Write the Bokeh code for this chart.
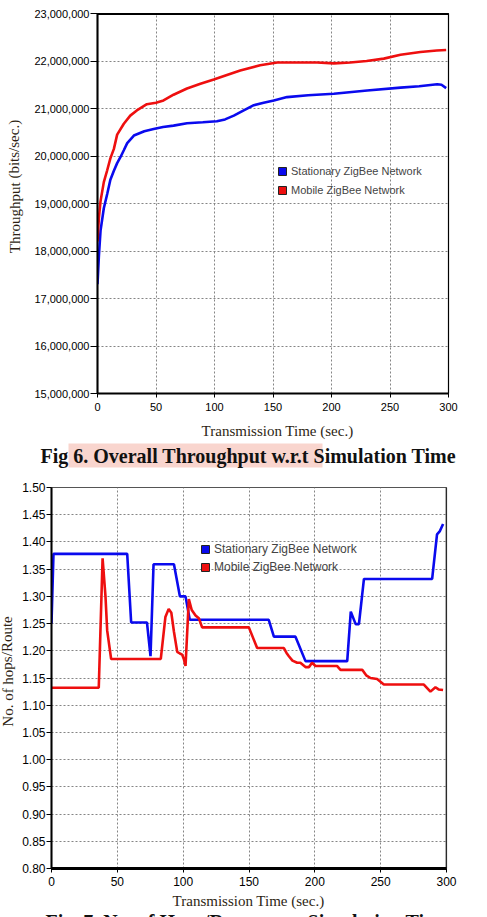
from bokeh.plotting import figure
from bokeh.layouts import column, row
from bokeh.models import (FixedTicker, NumeralTickFormatter, Label, Span, BoxAnnotation,
                          Legend, LegendItem, Range1d)
from bokeh.embed import file_html
from bokeh.resources import INLINE

# ---------------- Data: Fig 6 (throughput, millions of bits/sec) ----------------
t_mobile_tp = [0, 1.2, 2.6, 5.4, 8.3, 11, 14, 16.8, 22.5, 28, 33.6, 42.2, 50, 56.4, 65, 76.5,
               88, 99.4, 110, 122, 139, 153.6, 170, 187.7, 202, 216, 230, 244.7, 259, 276, 290, 298]
mobile_tp_m = [18.2, 18.7, 19.05, 19.45, 19.7, 19.95, 20.15, 20.45, 20.68, 20.85, 20.96, 21.09,
               21.12, 21.17, 21.29, 21.42, 21.52, 21.61, 21.70, 21.80, 21.91, 21.97, 21.97, 21.97,
               21.95, 21.97, 22.00, 22.05, 22.13, 22.19, 22.22, 22.23]
t_stat_tp = [0, 1.2, 2.6, 5.4, 8.3, 11, 14, 16.8, 19.7, 22.5, 25.4, 31.1, 40, 48, 56, 65, 76.5,
             90, 102, 109, 116.5, 125, 133.6, 142, 150.7, 162, 180, 202, 230.5, 259, 275, 290.3,
             294, 298]
stat_tp_m = [17.3, 17.9, 18.43, 18.9, 19.2, 19.5, 19.69, 19.85, 19.98, 20.12, 20.27, 20.43, 20.52,
             20.57, 20.61, 20.64, 20.69, 20.71, 20.73, 20.77, 20.85, 20.96, 21.07, 21.12, 21.17,
             21.24, 21.28, 21.31, 21.38, 21.44, 21.47, 21.51, 21.50, 21.43]
tp_ticks = [15e6, 16e6, 17e6, 18e6, 19e6, 20e6, 21e6, 22e6, 23e6]
time_ticks = [0, 50, 100, 150, 200, 250, 300]

# ---------------- Data: Fig 7 (hops/route) ----------------
t_stat_h = [0, 1.5, 57.5, 60.5, 72.5, 75.2, 77.5, 93, 97.5, 101.8, 105, 165, 168.9, 185.3, 192.9,
            224.6, 227.3, 231, 233.5, 237.3, 289.1, 292.8, 295, 297.4]
stat_h = [1.25, 1.378, 1.378, 1.252, 1.252, 1.19, 1.359, 1.359, 1.30, 1.30, 1.257, 1.257, 1.226,
          1.226, 1.181, 1.181, 1.272, 1.249, 1.249, 1.332, 1.332, 1.414, 1.42, 1.433]
t_mob_h = [0, 35.9, 38.8, 41, 42.3, 45.3, 83, 86.5, 89, 91, 93, 95.5, 97.5, 99.2, 100.5, 101.8,
           104.3, 106.5, 109.4, 111.9, 114.4, 149.9, 156.2, 176.5, 178.5, 180.3, 183, 186.6, 189,
           192.9, 195.5, 197.9, 200.5, 217, 219.5, 236, 239, 242.3, 247.3, 252.4, 282.8, 287.8,
           291.6, 294, 297.4]
mob_h = [1.132, 1.132, 1.37, 1.30, 1.237, 1.185, 1.185, 1.262, 1.277, 1.27, 1.235, 1.198, 1.195,
         1.193, 1.185, 1.172, 1.295, 1.275, 1.265, 1.26, 1.243, 1.243, 1.205, 1.205, 1.196, 1.19,
         1.182, 1.178, 1.178, 1.170, 1.170, 1.178, 1.172, 1.172, 1.165, 1.165, 1.155, 1.15, 1.148,
         1.138, 1.138, 1.125, 1.133, 1.129, 1.128]
hop_ticks = [0.80, 0.85, 0.90, 0.95, 1.00, 1.05, 1.10, 1.15, 1.20, 1.25, 1.30, 1.35, 1.40, 1.45, 1.50]

names = ["Stationary ZigBee Network", "Mobile ZigBee Network"]
x_title = "Transmission Time (sec.)"
y_title_tp = "Throughput (bits/sec.)"
y_title_hops = "No. of hops/Route"
caption6 = "Fig 6. Overall Throughput w.r.t Simulation Time"
caption7 = "Fig. 7. No. of Hops/Route w.r.t Simulation Time"

BLUE = "#0a0aee"
RED = "#ee0f0f"
TICK_FONT = "Liberation Sans"
SERIF = "Liberation Serif"
LABEL_COLOR = "#2e1f14"
NAN = float("nan")


def style(p, font_size):
    p.frame_align = False
    for ax in (p.xaxis[0], p.yaxis[0]):
        ax.major_label_text_font = TICK_FONT
        ax.major_label_text_font_size = font_size
        ax.major_label_text_color = "black"
        ax.minor_tick_line_color = None
        ax.major_tick_in = 0
        ax.axis_line_color = "black"
        ax.major_tick_line_color = "black"
    for g in (p.xgrid[0], p.ygrid[0]):
        g.grid_line_color = "#858585"
        g.grid_line_dash = "2 2"
        g.grid_line_width = 1


def strip(w, h):
    s = figure(width=w, height=h, x_range=Range1d(0, w), y_range=Range1d(h, 0),
               output_backend="svg", toolbar_location=None, min_border=0,
               min_border_left=0, min_border_right=0, min_border_top=0, min_border_bottom=0,
               x_axis_location=None, y_axis_location=None)
    s.grid.visible = False
    s.outline_line_color = None
    s.frame_align = False
    return s


def add_legend(p, loc, font_size, row_h):
    sw_s = p.quad(left=[NAN], right=[NAN], top=[NAN], bottom=[NAN], fill_color=BLUE,
                  line_color="#222222")
    sw_m = p.quad(left=[NAN], right=[NAN], top=[NAN], bottom=[NAN], fill_color=RED,
                  line_color="#222222")
    leg = Legend(items=[LegendItem(label=names[0], renderers=[sw_s]),
                        LegendItem(label=names[1], renderers=[sw_m])],
                 location=loc, padding=0, margin=0, spacing=0,
                 glyph_width=10, glyph_height=10, label_height=row_h, label_standoff=4,
                 label_text_font=TICK_FONT, label_text_font_size=font_size,
                 background_fill_alpha=0, border_line_color=None)
    p.add_layout(leg, "center")


def ylabel(s, x, y, text):
    s.add_layout(Label(x=x, y=y, text=text, angle=1.5708, text_align="center",
                       text_baseline="middle", text_font=SERIF, text_font_size="15px",
                       text_color=LABEL_COLOR))


# ================= Figure 1 =================
L1 = strip(28, 417)
ylabel(L1, 14, 186, y_title_tp)

p1 = figure(width=459, height=417, x_range=Range1d(0, 300), y_range=Range1d(15e6, 23e6),
            output_backend="svg", toolbar_location=None,
            min_border_left=69, min_border_right=39, min_border_top=13, min_border_bottom=24)
style(p1, "11px")
p1.outline_line_color = "black"
p1.outline_line_width = 1.2
p1.xaxis.ticker = FixedTicker(ticks=time_ticks)
p1.yaxis.ticker = FixedTicker(ticks=tp_ticks)
p1.yaxis.formatter = NumeralTickFormatter(format="0,0")
p1.yaxis.major_tick_out = 7
p1.yaxis.major_label_standoff = 1
p1.xaxis.major_tick_out = 4
p1.xaxis.major_label_standoff = 5
p1.yaxis.axis_line_width = 2
p1.xaxis.axis_line_width = 2
p1.add_layout(Span(location=23e6, dimension="width", line_color="black", line_width=3))

p1.line(t_stat_tp, [v * 1e6 for v in stat_tp_m], line_color=BLUE, line_width=2.6)
p1.line(t_mobile_tp, [v * 1e6 for v in mobile_tp_m], line_color=RED, line_width=2.6)
add_legend(p1, (180, 194), "11px", 19)

# caption strip 1
s1 = strip(487, 53)
s1.add_layout(Label(x=277, y=13.7, text=x_title, text_align="center", text_baseline="middle",
                    text_font=SERIF, text_font_size="15px", text_color=LABEL_COLOR))
s1.add_layout(BoxAnnotation(left=68, right=322, top=26, bottom=50,
                            fill_color="#f9d5ce", fill_alpha=1, line_color=None))
s1.add_layout(Label(x=40, y=38.7, text=caption6, text_align="left", text_baseline="middle",
                    text_font=SERIF, text_font_style="bold", text_font_size="20px",
                    text_color="#111111"))

# ================= Figure 2 =================
L2 = strip(16, 422)
ylabel(L2, 7, 201, y_title_hops)

p2 = figure(width=471, height=422, x_range=Range1d(0, 300), y_range=Range1d(0.8, 1.5),
            output_backend="svg", toolbar_location=None,
            min_border_left=35, min_border_right=41, min_border_top=17, min_border_bottom=24)
style(p2, "12px")
p2.outline_line_color = "#555555"
p2.outline_line_width = 1.2
p2.xaxis.ticker = FixedTicker(ticks=time_ticks)
p2.yaxis.ticker = FixedTicker(ticks=hop_ticks)
p2.yaxis.formatter = NumeralTickFormatter(format="0.00")
p2.yaxis.major_tick_out = 5
p2.yaxis.major_label_standoff = 1
p2.xaxis.major_tick_out = 4
p2.xaxis.major_label_standoff = 4
p2.yaxis.axis_line_width = 2
p2.xaxis.axis_line_width = 3
p2.add_layout(Span(location=300, dimension="height", line_color="black", line_width=1.5))

p2.line(t_stat_h, stat_h, line_color=BLUE, line_width=2.6)
p2.line(t_mob_h, mob_h, line_color=RED, line_width=2.6)
add_legend(p2, (149, 292), "12px", 18)

# caption strip 2 (caption partially cut off at the bottom edge, as in the source)
s2 = strip(487, 25)
s2.add_layout(Label(x=248, y=8, text=x_title, text_align="center", text_baseline="middle",
                    text_font=SERIF, text_font_size="15px", text_color=LABEL_COLOR))
s2.add_layout(Label(x=45, y=18, text=caption7, text_align="left", text_baseline="top",
                    text_font=SERIF, text_font_style="bold", text_font_size="20px",
                    text_color="#111111"))

layout = column(row(L1, p1, spacing=0), s1, row(L2, p2, spacing=0), s2, spacing=0)
open("out.html", "w").write(file_html(layout, INLINE))
